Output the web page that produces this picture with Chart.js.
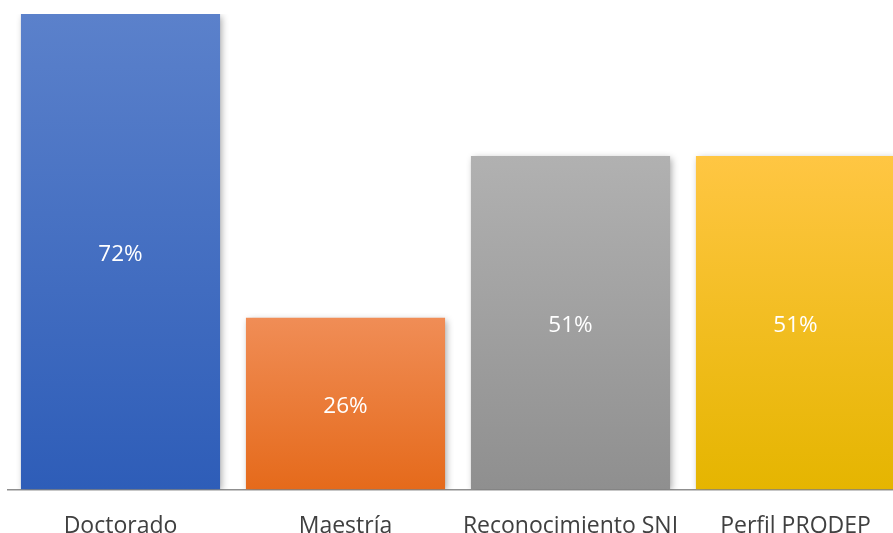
<!DOCTYPE html>
<html>
<head>
<meta charset="utf-8">
<script src="https://cdn.jsdelivr.net/npm/chart.js@4"></script>
<style>
html,body{margin:0;padding:0;background:#fff;overflow:hidden;}
#wrap{width:910px;height:563px;position:relative;}
</style>
</head>
<body>
<div id="wrap"><canvas id="c"></canvas></div>
<script>
const categories = ["Doctorado", "Maestría", "Reconocimiento SNI", "Perfil PRODEP"];
const values = [72, 26, 50.5, 50.5];
const topColors = ["#5B81CB", "#F08D56", "#B1B1B1", "#FFC643"];
const bottomColors = ["#2E5DB8", "#E56A1B", "#8F8F8F", "#E5B500"];

function barGradient(ctx) {
  const chart = ctx.chart;
  const area = chart.chartArea;
  const i = ctx.dataIndex;
  if (!area || i === undefined) return topColors[i || 0];
  const y = chart.scales.y;
  const top = y.getPixelForValue(values[i]);
  const base = y.getPixelForValue(0);
  const g = chart.ctx.createLinearGradient(0, top, 0, base);
  g.addColorStop(0, topColors[i]);
  g.addColorStop(1, bottomColors[i]);
  return g;
}

const shadowPlugin = {
  id: 'shadow',
  beforeDatasetDraw(chart) {
    const c = chart.ctx;
    c.save();
    c.shadowColor = 'rgba(0,0,0,0.35)';
    c.shadowBlur = 7;
    c.shadowOffsetX = 2;
    c.shadowOffsetY = 2;
  },
  afterDatasetDraw(chart) {
    chart.ctx.restore();
  }
};

const labelPlugin = {
  id: 'barLabels',
  afterDatasetsDraw(chart) {
    const c = chart.ctx;
    const meta = chart.getDatasetMeta(0);
    c.save();
    c.fillStyle = '#ffffff';
    c.font = '22.5px "Open Sans", sans-serif';
    c.textAlign = 'center';
    c.textBaseline = 'middle';
    meta.data.forEach((bar, i) => {
      const mid = (bar.y + bar.base) / 2;
      c.fillText(Math.round(values[i]) + '%', bar.x, mid + 3);
    });
    c.restore();
  }
};

new Chart(document.getElementById('c'), {
  type: 'bar',
  data: {
    labels: categories,
    datasets: [{
      data: values,
      backgroundColor: barGradient,
      borderWidth: 0,
      categoryPercentage: 0.885,
      barPercentage: 1.0
    }]
  },
  options: {
    responsive: true,
    maintainAspectRatio: false,
    animation: false,
    events: [],
    layout: { padding: { left: 8, right: 2, top: 14, bottom: 0 } },
    plugins: { legend: { display: false }, tooltip: { enabled: false } },
    scales: {
      x: {
        grid: { display: false, drawTicks: false },
        border: { display: true, color: '#8f8f8f', width: 1.5 },
        ticks: {
          color: '#404040',
          font: { family: '"Open Sans", sans-serif', size: 23 },
          padding: 23,
          maxRotation: 0,
          autoSkip: false
        }
      },
      y: {
        display: false,
        min: 0,
        max: 72
      }
    }
  },
  plugins: [shadowPlugin, labelPlugin]
});
</script>
</body>
</html>
